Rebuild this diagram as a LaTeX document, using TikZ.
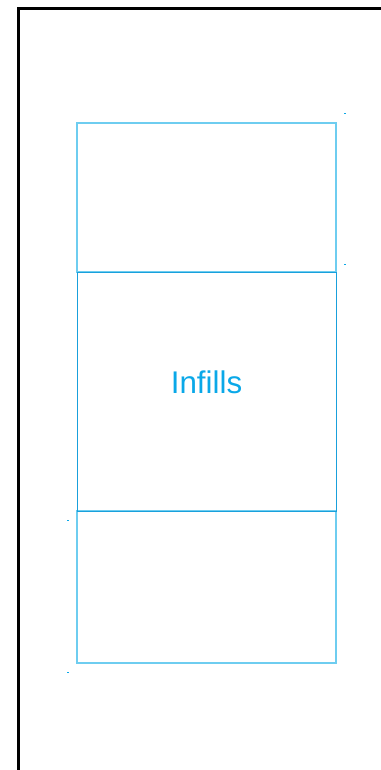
\documentclass[tikz,border=0pt]{standalone}
\usepackage{fontspec}
\setmainfont{Liberation Sans}
\usetikzlibrary{positioning}
\definecolor{infillblue}{RGB}{10,168,232}
\definecolor{paneblue}{RGB}{110,205,240}
\definecolor{coreblue}{RGB}{25,160,220}
\begin{document}
\begin{tikzpicture}[x=0.75pt, y=-0.75pt,
  pane/.style={draw=paneblue, line width=0.9pt, minimum width=194.25pt, inner sep=0pt, outer sep=0pt},
  core/.style={pane, draw=coreblue, line width=0.75pt},
  tick/.style={fill=infillblue, minimum width=1.5pt, minimum height=0.75pt, inner sep=0pt}]
\useasboundingbox (0,0) rectangle (381,770);
% outer frame, cut by the page edges
\draw[line width=1.6pt] (18.5,775) -- (18.5,8.5) -- (386,8.5);
% stacked panes
\node[pane, minimum height=111.75pt, anchor=north west] (top) at (77,123) {};
\node[core, minimum height=179.25pt, below=0pt of top] (mid) {};
\node[pane, minimum height=114pt, below=0pt of mid] (bot) {};
\draw[draw=coreblue, line width=0.75pt] (mid.north west) rectangle (mid.south east);
\node[font=\fontsize{23.5}{28}\selectfont, text=infillblue, yshift=7pt] (lbl) at (mid.center) {Infills};
% small marks beside the panes
\node[tick] (t1) at (345,114) {};
\node[tick] (t2) at (345,264) {};
\node[tick] (t3) at (68,520) {};
\node[tick] (t4) at (68,672) {};
\end{tikzpicture}
\end{document}
